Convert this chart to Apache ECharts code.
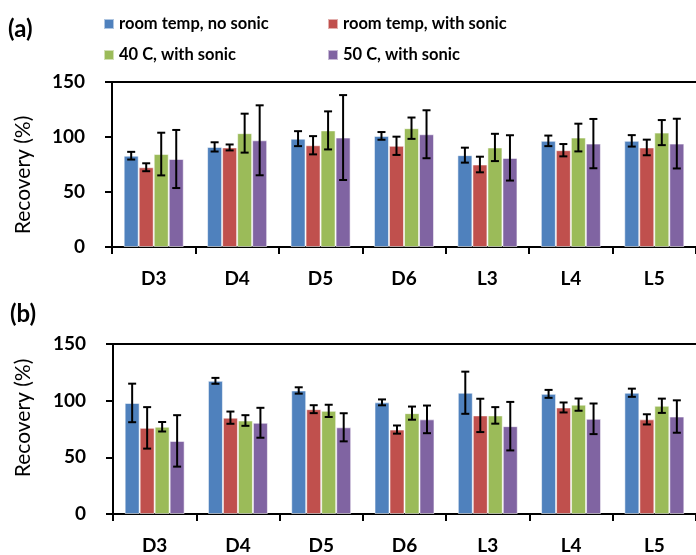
<!DOCTYPE html>
<html><head><meta charset="utf-8">
<script src="https://cdn.jsdelivr.net/npm/echarts@6/dist/echarts.min.js"></script>
<style>html,body{margin:0;padding:0;background:#fff}#c{width:696px;height:555px}</style>
</head><body><div id="c"></div>
<script>
const categories = ['D3','D4','D5','D6','L3','L4','L5'];
const seriesNames = ['room temp, no sonic','room temp, with sonic','40 C, with sonic','50 C, with sonic'];
const colors = ['#4F81BD','#C0504D','#9BBB59','#8064A2'];
const yTicks = [0, 50, 100, 150];

// Panel (a)
const a_rtNo     = [83, 91, 98.5, 101, 83.5, 96.5, 96.5];
const a_rtNoErr  = [3.5, 4.2, 6.8, 3.5, 6.8, 4.8, 5.2];
const a_rtSon    = [72.5, 90.5, 92.5, 92, 75, 88, 90.5];
const a_rtSonErr = [3.6, 2.7, 8.3, 8.3, 7.1, 5.6, 7.1];
const a_40       = [84.5, 103.5, 106, 108, 90.5, 99.5, 104];
const a_40Err    = [19.4, 17.7, 17.3, 9.7, 12.4, 12.6, 11.4];
const a_50       = [80, 97, 99.5, 102.5, 81, 94, 94];
const a_50Err    = [26.4, 31.8, 38.6, 21.8, 20.6, 22.4, 22.6];

// Panel (b)
const b_rtNo     = [98, 117.5, 109, 98.5, 107, 106, 107];
const b_rtNoErr  = [17, 2.6, 2.8, 2.6, 18.6, 3.5, 3.6];
const b_rtSon    = [76, 85, 92.5, 74.5, 87, 94, 83.5];
const b_rtSonErr = [18.3, 5.4, 3.5, 3.6, 14.7, 4.4, 4.5];
const b_40       = [77, 82.5, 91, 89, 87, 96.5, 95.5];
const b_40Err    = [4.2, 4.7, 5.4, 5.8, 7.3, 5.4, 6.3];
const b_50       = [64.5, 80.5, 76.5, 83.5, 77.5, 84, 86];
const b_50Err    = [22.7, 13.2, 12.4, 12.2, 21.4, 13.5, 14.3];

const FONT = 'Lato';
const GAP = 0.28;
const panels = [
  {vals:[a_rtNo,a_rtSon,a_40,a_50], errs:[a_rtNoErr,a_rtSonErr,a_40Err,a_50Err]},
  {vals:[b_rtNo,b_rtSon,b_40,b_50], errs:[b_rtNoErr,b_rtSonErr,b_40Err,b_50Err]}
];

const chart = echarts.init(document.getElementById('c'), null, {renderer:'canvas'});

function xAxisBottom(gi){
  return {type:'category', gridIndex:gi, data:categories, position:'bottom',
    axisLine:{lineStyle:{color:'#000', width:2}},
    axisTick:{show:true, length:7, lineStyle:{color:'#000', width:2}},
    axisLabel:{fontFamily:FONT, fontWeight:'bold', fontSize:19, color:'#000', margin:22}};
}
function xAxisTop(gi){
  return {type:'category', gridIndex:gi, data:categories, position:'top',
    axisLine:{lineStyle:{color:'#000', width:2}}, axisTick:{show:false}, axisLabel:{show:false}};
}
function yAxis(gi){
  return {type:'value', gridIndex:gi, min:0, max:150, interval:50,
    axisLine:{show:true, lineStyle:{color:'#000', width:2}},
    axisTick:{show:true, length:7, lineStyle:{color:'#000', width:2}},
    splitLine:{show:false},
    axisLabel:{fontFamily:FONT, fontWeight:'bold', fontSize:19, color:'#000', margin:27}};
}

function errRender(idx){
  return function(params, api){
    const x = api.value(0), lo = api.value(1), hi = api.value(2);
    const band = api.size([1,0])[0];
    const bw = band*(1-GAP)/4;
    const cx = api.coord([x,0])[0] - band*(1-GAP)/2 + bw*(idx+0.5);
    const yLo = api.coord([x,lo])[1], yHi = api.coord([x,hi])[1];
    const cap = 4;
    const st = {stroke:'#000', lineWidth:2};
    return {type:'group', children:[
      {type:'line', shape:{x1:cx,y1:yLo,x2:cx,y2:yHi}, style:st},
      {type:'line', shape:{x1:cx-cap,y1:yLo,x2:cx+cap,y2:yLo}, style:st},
      {type:'line', shape:{x1:cx-cap,y1:yHi,x2:cx+cap,y2:yHi}, style:st}
    ]};
  };
}

const series = [];
panels.forEach((p, gi) => {
  p.vals.forEach((v, si) => {
    series.push({type:'bar', name:seriesNames[si], xAxisIndex:gi*2, yAxisIndex:gi,
      data:v, barGap:'0%', barCategoryGap:(GAP*100)+'%',
      itemStyle:{color:colors[si], borderColor:'rgba(255,255,255,0.55)', borderWidth:1},
      silent:true, z:2});
  });
  p.vals.forEach((v, si) => {
    series.push({type:'custom', name:'err'+gi+'_'+si, xAxisIndex:gi*2, yAxisIndex:gi,
      renderItem:errRender(si), encode:{x:0, y:[1,2]}, z:5, silent:true,
      data:v.map((val,i)=>[i, val - p.errs[si][i], val + p.errs[si][i]])});
  });
});

const legendPos = [[103,15],[327,15],[103,46],[327,46]];
const legends = seriesNames.map((n,i)=>({data:[n], left:legendPos[i][0], top:legendPos[i][1], padding:0,
  icon:'rect', itemWidth:10, itemHeight:10, selectedMode:false,
  textStyle:{fontFamily:FONT, fontWeight:'bold', fontSize:16.5, color:'#000', lineHeight:18}}));

chart.setOption({
  animation:false,
  color:colors,
  legend:legends,
  grid:[{left:112, top:82, width:586, height:165},
        {left:113, top:344, width:585, height:172}],
  xAxis:[xAxisBottom(0), xAxisTop(0), xAxisBottom(1), xAxisTop(1)],
  yAxis:[yAxis(0), yAxis(1)],
  series:series,
  graphic:[
    {type:'text', left:8, top:17, style:{text:'(a)', font:'bold 24px '+FONT, fill:'#000'}},
    {type:'text', left:10, top:302, style:{text:'(b)', font:'bold 24px '+FONT, fill:'#000'}},
    {type:'text', x:23, y:175, rotation:Math.PI/2, style:{text:'Recovery (%)', font:'21px '+FONT, fill:'#000', align:'center', verticalAlign:'middle'}},
    {type:'text', x:23, y:418, rotation:Math.PI/2, style:{text:'Recovery (%)', font:'21px '+FONT, fill:'#000', align:'center', verticalAlign:'middle'}}
  ]
});
</script></body></html>
